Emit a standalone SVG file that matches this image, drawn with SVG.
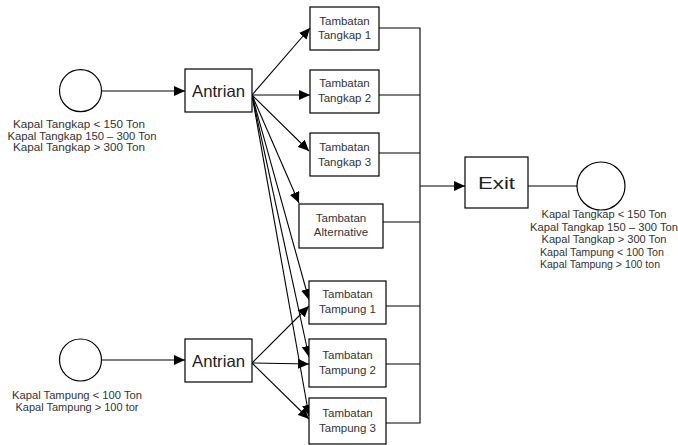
<svg xmlns="http://www.w3.org/2000/svg" width="678" height="445" viewBox="0 0 678 445">
<style>
.bx{fill:#fff;stroke:#000;stroke-width:1.2}
.ci{fill:#fff;stroke:#000;stroke-width:1.2}
.ln{fill:none;stroke:#000;stroke-width:1.1}
.ar{fill:none;stroke:#000;stroke-width:1.1;marker-end:url(#ah)}
.t{font-family:"Liberation Sans",Arial,sans-serif;fill:#333;text-anchor:middle}
.bt{font-size:11.5px}
.lb{font-size:10.5px}
.big{font-size:16.5px;fill:#222}
</style>
<defs>
<marker id="ah" markerUnits="userSpaceOnUse" markerWidth="12" markerHeight="10" refX="11" refY="5" orient="auto">
<path d="M0,0 L11,5 L0,10 Z" fill="#000"/>
</marker>
</defs>
<g id="connectors">
<line class="ar" x1="101" y1="91" x2="185" y2="91"/>
<line class="ar" x1="101" y1="360" x2="185" y2="360"/>
<line class="ar" x1="252" y1="95" x2="310" y2="28"/>
<line class="ar" x1="252" y1="95" x2="310" y2="95"/>
<line class="ar" x1="252" y1="95" x2="309" y2="151"/>
<line class="ar" x1="252" y1="95" x2="299" y2="203"/>
<line class="ar" x1="252" y1="95" x2="309" y2="300"/>
<line class="ar" x1="252" y1="95" x2="309" y2="357"/>
<line class="ar" x1="252" y1="95" x2="309" y2="416"/>
<line class="ar" x1="252" y1="363" x2="309" y2="306"/>
<line class="ar" x1="252" y1="363" x2="309" y2="364"/>
<line class="ar" x1="252" y1="363" x2="309" y2="419"/>
<polyline class="ln" points="379,28 420,28 420,423 386,423"/>
<line class="ln" x1="379" y1="95" x2="420" y2="95"/>
<line class="ln" x1="379" y1="153" x2="420" y2="153"/>
<line class="ln" x1="383" y1="222" x2="420" y2="222"/>
<line class="ln" x1="386" y1="306" x2="420" y2="306"/>
<line class="ln" x1="386" y1="364" x2="420" y2="364"/>
<line class="ar" x1="420" y1="186" x2="465" y2="186"/>
<line class="ln" x1="528" y1="186" x2="577" y2="186"/>
</g>
<g id="src1">
<circle class="ci" cx="80.5" cy="90.7" r="21"/>
<text class="t lb" x="79" y="128" textLength="132" lengthAdjust="spacingAndGlyphs">Kapal Tangkap &lt; 150 Ton</text>
<text class="t lb" x="82" y="139.5" textLength="149" lengthAdjust="spacingAndGlyphs">Kapal Tangkap 150 – 300 Ton</text>
<text class="t lb" x="79" y="151" textLength="132" lengthAdjust="spacingAndGlyphs">Kapal Tangkap &gt; 300 Ton</text>
</g>
<g id="src2">
<circle class="ci" cx="80.5" cy="360" r="21"/>
<text class="t lb" x="77" y="399" textLength="130" lengthAdjust="spacingAndGlyphs">Kapal Tampung &lt; 100 Ton</text>
<text class="t lb" x="77" y="411" textLength="123" lengthAdjust="spacingAndGlyphs">Kapal Tampung &gt; 100 tor</text>
</g>
<g id="antrian1">
<rect class="bx" x="185" y="69" width="67" height="43"/>
<text class="t big" x="218.5" y="97" textLength="53" lengthAdjust="spacingAndGlyphs">Antrian</text>
</g>
<g id="antrian2">
<rect class="bx" x="185" y="339" width="67" height="43"/>
<text class="t big" x="218.5" y="367" textLength="53" lengthAdjust="spacingAndGlyphs">Antrian</text>
</g>
<g id="tangkap1">
<rect class="bx" x="310" y="7" width="69" height="43"/>
<text class="t bt" x="344.5" y="25">Tambatan</text>
<text class="t bt" x="344.5" y="39">Tangkap 1</text>
</g>
<g id="tangkap2">
<rect class="bx" x="310" y="70" width="69" height="43"/>
<text class="t bt" x="344.5" y="87">Tambatan</text>
<text class="t bt" x="344.5" y="102">Tangkap 2</text>
</g>
<g id="tangkap3">
<rect class="bx" x="310" y="133" width="69" height="43"/>
<text class="t bt" x="344.5" y="151">Tambatan</text>
<text class="t bt" x="344.5" y="166">Tangkap 3</text>
</g>
<g id="alternative">
<rect class="bx" x="299" y="204" width="84" height="44"/>
<text class="t bt" x="341" y="222">Tambatan</text>
<text class="t bt" x="341" y="236">Alternative</text>
</g>
<g id="tampung1">
<rect class="bx" x="309" y="281" width="77" height="43"/>
<text class="t bt" x="347.5" y="298">Tambatan</text>
<text class="t bt" x="347.5" y="313">Tampung 1</text>
</g>
<g id="tampung2">
<rect class="bx" x="309" y="339" width="77" height="48"/>
<text class="t bt" x="347.5" y="359">Tambatan</text>
<text class="t bt" x="347.5" y="374">Tampung 2</text>
</g>
<g id="tampung3">
<rect class="bx" x="309" y="398" width="77" height="46"/>
<text class="t bt" x="347.5" y="417">Tambatan</text>
<text class="t bt" x="347.5" y="432">Tampung 3</text>
</g>
<g id="exit">
<rect class="bx" x="465" y="157" width="63" height="51"/>
<text class="t big" x="496.5" y="189" textLength="37" lengthAdjust="spacingAndGlyphs">Exit</text>
</g>
<g id="sink">
<circle class="ci" cx="601" cy="186" r="24"/>
<text class="t lb" x="604" y="218" textLength="125" lengthAdjust="spacingAndGlyphs">Kapal Tangkap &lt; 150 Ton</text>
<text class="t lb" x="604" y="230.5" textLength="148" lengthAdjust="spacingAndGlyphs">Kapal Tangkap 150 – 300 Ton</text>
<text class="t lb" x="604" y="243" textLength="125" lengthAdjust="spacingAndGlyphs">Kapal Tangkap &gt; 300 Ton</text>
<text class="t lb" x="602" y="255.5" textLength="124" lengthAdjust="spacingAndGlyphs">Kapal Tampung &lt; 100 Ton</text>
<text class="t lb" x="600" y="268" textLength="120" lengthAdjust="spacingAndGlyphs">Kapal Tampung &gt; 100 ton</text>
</g>
</svg>
